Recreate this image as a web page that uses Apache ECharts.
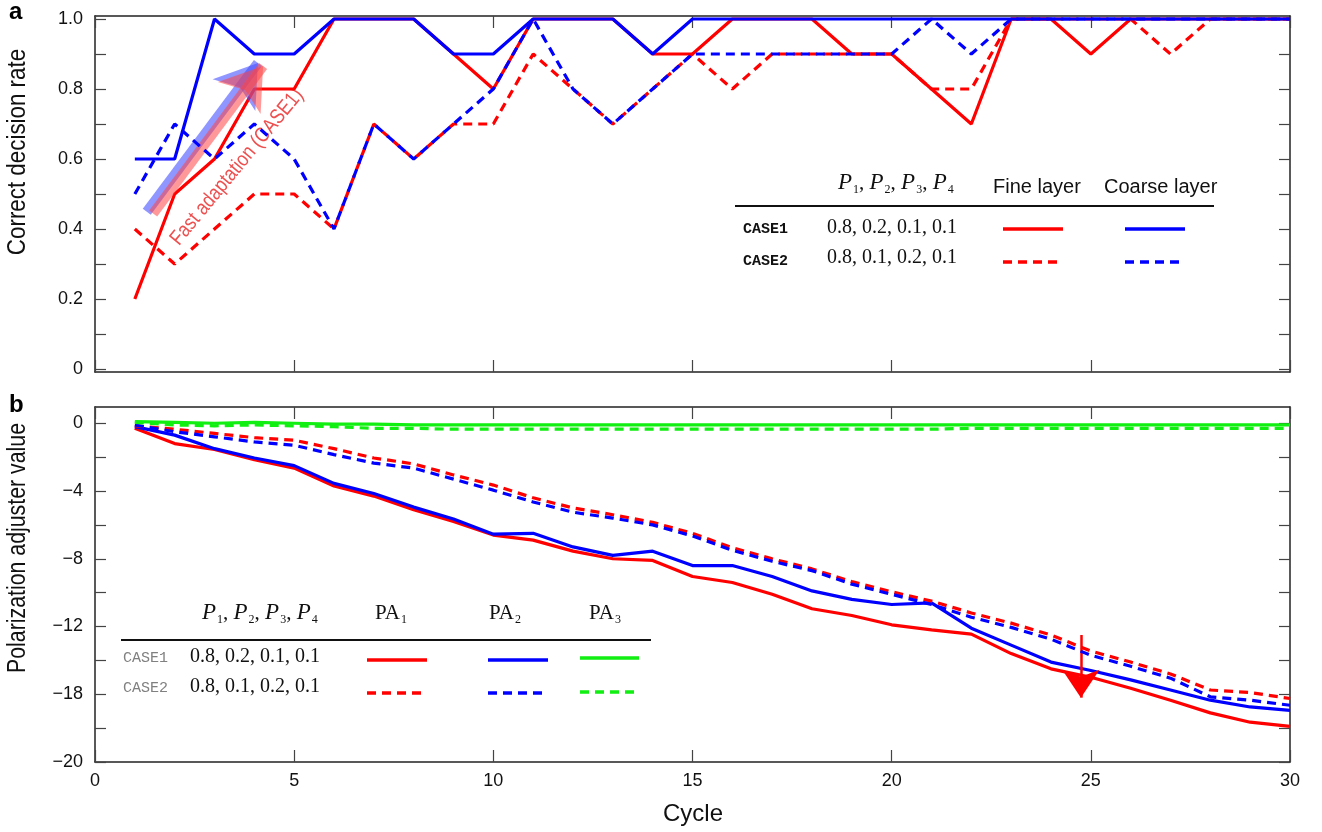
<!DOCTYPE html>
<html>
<head>
<meta charset="utf-8">
<title>Correct decision rate / polarization adjuster value</title>
<script src="https://cdn.jsdelivr.net/npm/echarts@6/dist/echarts.min.js"></script>
<style>
  html, body { margin: 0; padding: 0; background: #fff; }
  #chart { width: 1322px; height: 832px; }
</style>
</head>
<body>
<div id="chart"></div>
<script>
// x values
const cycles = [1, 2, 3, 4, 5, 6, 7, 8, 9, 10, 11, 12, 13, 14, 15,
  16, 17, 18, 19, 20, 21, 22, 23, 24, 25, 26, 27, 28, 29, 30];

// panel a: correct decision rate
const fineCase1 = [0.2, 0.5, 0.6, 0.8, 0.8, 1, 1, 1, 0.9, 0.8, 1, 1, 1, 0.9, 0.9,
  1, 1, 1, 0.9, 0.9, 0.8, 0.7, 1, 1, 0.9, 1, 1, 1, 1, 1];
const coarseCase1 = [0.6, 0.6, 1, 0.9, 0.9, 1, 1, 1, 0.9, 0.9, 1, 1, 1, 0.9, 1,
  1, 1, 1, 1, 1, 1, 1, 1, 1, 1, 1, 1, 1, 1, 1];
const fineCase2 = [0.4, 0.3, 0.4, 0.5, 0.5, 0.4, 0.7, 0.6, 0.7, 0.7, 0.9, 0.8, 0.7, 0.8, 0.9,
  0.8, 0.9, 0.9, 0.9, 0.9, 0.8, 0.8, 1, 1, 1, 1, 0.9, 1, 1, 1];
const coarseCase2 = [0.5, 0.7, 0.6, 0.7, 0.6, 0.4, 0.7, 0.6, 0.7, 0.8, 1, 0.8, 0.7, 0.8, 0.9,
  0.9, 0.9, 0.9, 0.9, 0.9, 1, 0.9, 1, 1, 1, 1, 1, 1, 1, 1];

// panel b: polarization adjuster value
const pa1Case1 = [-0.3, -1.2, -1.55, -2.15, -2.65, -3.7, -4.3, -5.1, -5.8, -6.6, -6.9, -7.55, -8.0, -8.1, -9.05,
  -9.4, -10.1, -10.95, -11.35, -11.9, -12.2, -12.45, -13.6, -14.5, -15.0, -15.65, -16.35, -17.1, -17.65, -17.9];
const pa2Case1 = [-0.2, -0.7, -1.5, -2.05, -2.5, -3.55, -4.15, -4.95, -5.65, -6.55, -6.5, -7.3, -7.8, -7.55, -8.4,
  -8.4, -9.05, -9.9, -10.4, -10.7, -10.6, -12.1, -13.1, -14.1, -14.6, -15.15, -15.75, -16.35, -16.75, -16.95];
const pa3Case1 = [0.1, 0.05, 0, 0.05, 0, -0.05, -0.05, -0.1, -0.1, -0.1, -0.1, -0.1, -0.1, -0.1, -0.1,
  -0.1, -0.1, -0.1, -0.1, -0.1, -0.1, -0.1, -0.1, -0.1, -0.1, -0.1, -0.1, -0.1, -0.1, -0.1];
const pa1Case2 = [-0.15, -0.35, -0.6, -0.85, -1.0, -1.5, -2.05, -2.4, -3.05, -3.65, -4.4, -5.0, -5.4, -5.85, -6.5,
  -7.35, -8.0, -8.6, -9.35, -9.95, -10.5, -11.2, -11.8, -12.5, -13.45, -14.1, -14.8, -15.75, -15.9, -16.25];
const pa2Case2 = [-0.1, -0.5, -0.8, -1.1, -1.3, -1.85, -2.35, -2.65, -3.3, -3.95, -4.65, -5.25, -5.6, -6.0, -6.65,
  -7.5, -8.15, -8.7, -9.5, -10.1, -10.7, -11.45, -12.05, -12.75, -13.7, -14.35, -15.05, -16.15, -16.35, -16.65];
const pa3Case2 = [0.05, -0.1, -0.15, -0.1, -0.15, -0.2, -0.3, -0.3, -0.35, -0.35, -0.35, -0.35, -0.35, -0.35, -0.35,
  -0.35, -0.35, -0.35, -0.35, -0.35, -0.35, -0.3, -0.3, -0.3, -0.3, -0.3, -0.3, -0.3, -0.3, -0.3];

// ticks and labels
const xLabelValues = [0, 5, 10, 15, 20, 25, 30];
const topTickValues = [0, 0.1, 0.2, 0.3, 0.4, 0.5, 0.6, 0.7, 0.8, 0.9, 1.0];
const topLabelValues = [0, 0.2, 0.4, 0.6, 0.8, 1.0];
const topLabels = ['0', '0.2', '0.4', '0.6', '0.8', '1.0'];
const bottomTickValues = [0, -2, -4, -6, -8, -10, -12, -14, -16, -18, -20];
const bottomLabelValues = [0, -4, -8, -12, -16, -20];
const bottomLabels = ['0', '\u22124', '\u22128', '\u221212', '\u221218', '\u221220'];

// table rows
const caseNames = ['CASE1', 'CASE2'];
const caseProbs = ['0.8, 0.2, 0.1, 0.1', '0.8, 0.1, 0.2, 0.1'];

const RED = '#ff0000';
const BLUE = '#0000ff';
const GREEN = '#11ee11';
const DASH = [9, 6];

const SANS = "'Liberation Sans', Arial, sans-serif";
const SERIF = "'Liberation Serif', 'Times New Roman', serif";
const MONO = "'Liberation Mono', 'Courier New', monospace";

const chart = echarts.init(document.getElementById('chart'), null, { renderer: 'canvas' });

const pairs = arr => cycles.map((c, i) => [c, arr[i]]);

function lineSeries(name, arr, color, dashed, axisIdx, z) {
  return {
    name,
    type: 'line',
    xAxisIndex: axisIdx,
    yAxisIndex: axisIdx,
    data: pairs(arr),
    symbol: 'none',
    z,
    lineStyle: { color, width: 3.2, type: dashed ? DASH : 'solid', cap: 'butt' },
  };
}

const frame = { show: true, onZero: false, lineStyle: { color: '#222', width: 1.5 } };

function xAxes(grid, withLabels) {
  const base = {
    gridIndex: grid, type: 'value', min: 0, max: 30, interval: 5,
    axisLine: frame, splitLine: { show: false },
    axisTick: { show: true, inside: true, length: 12, lineStyle: { color: '#444', width: 1.2 } },
  };
  return [
    Object.assign({}, base, {
      position: 'bottom',
      axisLabel: {
        show: withLabels, margin: 10, fontFamily: SANS, fontSize: 18, color: '#111',
        customValues: xLabelValues,
      },
    }),
    Object.assign({}, base, { position: 'top', axisLabel: { show: false } }),
  ];
}

function yAxes(grid, min, max, ticks, labelValues, labels) {
  const base = {
    gridIndex: grid, type: 'value', min, max,
    axisLine: frame, splitLine: { show: false },
    axisTick: { show: true, inside: true, length: 11, customValues: ticks, lineStyle: { color: '#444', width: 1.2 } },
  };
  return [
    Object.assign({}, base, {
      position: 'left',
      axisLabel: {
        show: true, margin: 12, fontFamily: SANS, fontSize: 18, color: '#111',
        customValues: labelValues,
        formatter: v => {
          const i = labelValues.findIndex(t => Math.abs(t - v) < 1e-6);
          return i >= 0 ? labels[i] : '';
        },
      },
    }),
    Object.assign({}, base, { position: 'right', axisLabel: { show: false } }),
  ];
}

// rich text for "P1, P2, P3, P4" and "PAn"
const rich = {
  p: { fontFamily: SERIF, fontStyle: 'italic', fontSize: 23, fill: '#111' },
  c: { fontFamily: SERIF, fontSize: 21, fill: '#111' },
  s: { fontFamily: SERIF, fontSize: 12, fill: '#111', verticalAlign: 'bottom', padding: [14, 0, 0, 1] },
};
const pHeader = '{p|P}{s|1}{c|, }{p|P}{s|2}{c|, }{p|P}{s|3}{c|, }{p|P}{s|4}';

function txt(x, y, text, font, fill, extra) {
  return Object.assign({
    type: 'text', x, y, silent: true,
    style: { text, font, fill: fill || '#111', align: 'left', verticalAlign: 'middle' },
  }, extra || {});
}
function richTxt(x, y, text) {
  return { type: 'text', x, y, silent: true,
    style: { text, rich, align: 'left', verticalAlign: 'middle' } };
}
// condensed-looking text: normal sans squeezed along its own direction
function narrowTxt(x, y, text, size, squeeze, rotation, fill) {
  return { type: 'text', x, y, rotation, scaleX: squeeze, silent: true,
    style: { text, font: size + 'px ' + SANS, fill, align: 'center', verticalAlign: 'middle' } };
}
function seg(x1, x2, y, color, dashed, w) {
  return { type: 'line', silent: true,
    shape: { x1, y1: y, x2, y2: y },
    style: { stroke: color, lineWidth: w || 3.5, lineDash: dashed ? DASH : null } };
}

const graphics = [
  // panel letters and axis titles
  txt(9, 12, 'a', 'bold 24px ' + SANS, '#000'),
  txt(9, 405, 'b', 'bold 24px ' + SANS, '#000'),
  narrowTxt(18, 152, 'Correct decision rate', 26, 0.86, Math.PI / 2, '#111'),
  narrowTxt(18, 548, 'Polarization adjuster value', 26, 0.82, Math.PI / 2, '#111'),
  { type: 'text', x: 693, y: 814, silent: true,
    style: { text: 'Cycle', font: '24px ' + SANS, fill: '#111', align: 'center', verticalAlign: 'middle' } },
  // annotation text
  narrowTxt(237, 167, 'Fast adaptation (CASE1)', 21, 0.84, 0.88, '#ee5050'),

  // table, panel a
  richTxt(838, 183, pHeader),
  txt(993, 187, 'Fine layer', '20px ' + SANS),
  txt(1104, 187, 'Coarse layer', '20px ' + SANS),
  { type: 'line', silent: true, shape: { x1: 735, y1: 206, x2: 1214, y2: 206 }, style: { stroke: '#111', lineWidth: 2 } },
  txt(743, 229, caseNames[0], 'bold 15px ' + MONO),
  txt(743, 261, caseNames[1], 'bold 15px ' + MONO),
  txt(827, 228, caseProbs[0], '20px ' + SERIF),
  txt(827, 258, caseProbs[1], '20px ' + SERIF),
  seg(1003, 1063, 229, RED, false),
  seg(1125, 1185, 229, BLUE, false),
  seg(1003, 1063, 262, RED, true),
  seg(1125, 1185, 262, BLUE, true),

  // table, panel b
  richTxt(202, 613, pHeader),
  richTxt(375, 613, '{c|PA}{s|1}'),
  richTxt(489, 613, '{c|PA}{s|2}'),
  richTxt(589, 613, '{c|PA}{s|3}'),
  { type: 'line', silent: true, shape: { x1: 121, y1: 640, x2: 651, y2: 640 }, style: { stroke: '#111', lineWidth: 2 } },
  txt(123, 658, caseNames[0], '15px ' + MONO, '#808080'),
  txt(123, 688, caseNames[1], '15px ' + MONO, '#808080'),
  txt(190, 657, caseProbs[0], '20px ' + SERIF),
  txt(190, 687, caseProbs[1], '20px ' + SERIF),
  seg(367, 427, 660, RED, false),
  seg(488, 548, 660, BLUE, false),
  seg(580, 639, 658, GREEN, false),
  seg(367, 427, 693, RED, true),
  seg(488, 548, 693, BLUE, true),
  seg(580, 639, 692, GREEN, true),
];

// annotation arrows (data coordinates, tail -> tip)
const fastArrowBlue = [[1.30, 0.449], [4.09, 0.874]];
const fastArrowRed = [[1.46, 0.444], [4.22, 0.866]];
const downArrow = [[24.75, -12.5], [24.75, -16.2]];

function arrowSeries(axisIdx, items) {
  return {
    type: 'line', xAxisIndex: axisIdx, yAxisIndex: axisIdx, data: [], z: 20,
    markLine: {
      silent: true, animation: false,
      symbol: ['none', 'arrow'],
      label: { show: false },
      emphasis: { disabled: true },
      data: items,
    },
  };
}

const option = {
  backgroundColor: '#fff',
  animation: false,
  grid: [
    { left: 95, top: 16, width: 1195, height: 356 },
    { left: 95, top: 407, width: 1195, height: 355 },
  ],
  xAxis: [...xAxes(0, false), ...xAxes(1, true)],
  yAxis: [
    ...yAxes(0, -0.0086, 1.0086, topTickValues, topLabelValues, topLabels),
    ...yAxes(1, -20, 0.96, bottomTickValues, bottomLabelValues, bottomLabels),
  ],
  series: [
    lineSeries('Fine CASE1', fineCase1, RED, false, 0, 3),
    lineSeries('Fine CASE2', fineCase2, RED, true, 0, 4),
    lineSeries('Coarse CASE2', coarseCase2, BLUE, true, 0, 5),
    lineSeries('Coarse CASE1', coarseCase1, BLUE, false, 0, 6),
    arrowSeries(0, [
      [{ coord: fastArrowBlue[0], symbolSize: 1, lineStyle: { color: 'rgba(70,80,255,0.6)', width: 10, type: 'solid' } },
       { coord: fastArrowBlue[1], symbolSize: 40 }],
      [{ coord: fastArrowRed[0], symbolSize: 1, lineStyle: { color: 'rgba(255,70,70,0.55)', width: 10, type: 'solid' } },
       { coord: fastArrowRed[1], symbolSize: 40 }],
    ]),
    lineSeries('PA1 CASE1', pa1Case1, RED, false, 2, 3),
    lineSeries('PA2 CASE1', pa2Case1, BLUE, false, 2, 4),
    lineSeries('PA1 CASE2', pa1Case2, RED, true, 2, 5),
    lineSeries('PA2 CASE2', pa2Case2, BLUE, true, 2, 6),
    lineSeries('PA3 CASE2', pa3Case2, GREEN, true, 2, 7),
    lineSeries('PA3 CASE1', pa3Case1, GREEN, false, 2, 8),
    arrowSeries(2, [
      [{ coord: downArrow[0], symbolSize: 1, lineStyle: { color: RED, width: 2.5, type: 'solid' } },
       { coord: downArrow[1], symbolSize: 28 }],
    ]),
  ],
  graphic: graphics,
};

chart.setOption(option);
</script>
</body>
</html>
